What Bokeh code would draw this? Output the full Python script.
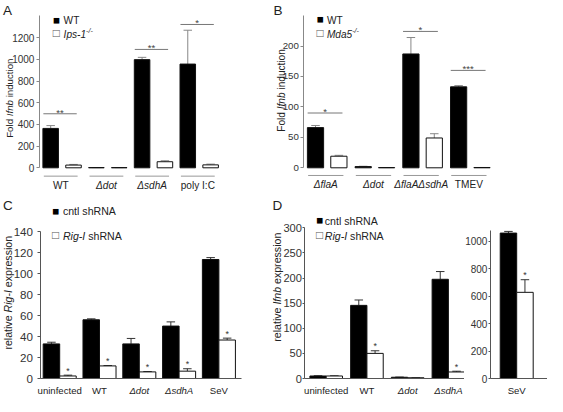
import numpy as np
from bokeh.plotting import figure
from bokeh.layouts import row, column
from bokeh.models import Range1d, FixedTicker, ColumnDataSource, Whisker, TeeHead, Label
from bokeh.embed import file_html
from bokeh.resources import INLINE
from bokeh.core.properties import value

FONT = "Liberation Sans"
TXT = "#222222"
BASE_SHIFT = 0.33  # Label boxes sit a little below the alphabetic baseline

# ---------------- data ----------------
A_CATS = ["WT", "Δdot", "ΔsdhA", "poly I:C"]
A_ITALIC = [False, True, True, False]
A_WT = [363, 2, 997, 956]
A_WT_ERR = [26, 0, 21, 312]
A_KO = [25, 2, 56, 27]
A_KO_ERR = [6, 0, 9, 7]
A_SIG_GROUPS = [0, 2, 3]
A_SIG_Y = [498, 1091, 1321]
A_SIG_TEXT = ["**", "**", "*"]
A_YTICKS = [0, 200, 400, 600, 800, 1000, 1200]

B_CATS = ["ΔflaA", "Δdot", "ΔflaAΔsdhA", "TMEV"]
B_ITALIC = [True, True, True, False]
B_WT = [66, 2, 187, 133]
B_WT_ERR = [3.5, 0.5, 27, 2]
B_KO = [19, 0.4, 49, 0.5]
B_KO_ERR = [1.5, 0, 7, 0]
B_SIG_GROUPS = [0, 2, 3]
B_SIG_Y = [90, 224, 160]
B_SIG_TEXT = ["*", "*", "***"]
B_YTICKS = [0, 50, 100, 150, 200]

C_CATS = ["uninfected", "WT", "Δdot", "ΔsdhA", "SeV"]
C_ITALIC = [False, False, True, True, False]
C_CTL = [33, 56, 33, 50, 113.5]
C_CTL_ERR = [1.6, 0.9, 5.2, 4, 1.8]
C_KD = [2.4, 12, 6.3, 7, 36.7]
C_KD_ERR = [0.8, 0.3, 0.3, 2.3, 1.8]
C_STARS = ["*", "*", "*", "*", "*"]
C_YTICKS = [0, 20, 40, 60, 80, 100, 120, 140]

D_CATS = ["uninfected", "WT", "Δdot", "ΔsdhA"]
D_ITALIC = [False, False, True, True]
D_CTL = [5, 145.6, 2.5, 197.5]
D_CTL_ERR = [0.5, 10.7, 0.3, 15.4]
D_KD = [5, 50, 1.5, 13]
D_KD_ERR = [0.3, 5.2, 0, 1.5]
D_STARS = ["", "*", "", "*"]
D_YTICKS = [0, 50, 100, 150, 200, 250, 300]

D2_CATS = ["SeV"]
D2_ITALIC = [False]
D2_CTL = [1060]
D2_CTL_ERR = [12]
D2_KD = [628]
D2_KD_ERR = [92]
D2_STARS = ["*"]
D2_YTICKS = [0, 200, 400, 600, 800, 1000]

# Arial / Liberation Sans advance widths (1/1000 em)
CW = {' ': 278, '-': 333, '/': 278, ':': 278, '1': 556, '5': 556, 'A': 667, 'B': 667,
      'C': 722, 'D': 722, 'E': 667, 'F': 611, 'I': 278, 'M': 833, 'N': 722, 'R': 722,
      'S': 667, 'T': 611, 'V': 667, 'W': 944, 'a': 556, 'b': 556, 'c': 500, 'd': 556,
      'e': 556, 'f': 278, 'g': 556, 'h': 556, 'i': 222, 'l': 222, 'n': 556, 'o': 556,
      'p': 556, 'r': 333, 's': 500, 't': 278, 'u': 556, 'v': 500, 'x': 500, 'y': 500}


def text_width(s, size):
    return sum(CW.get(ch, 556) for ch in s) * size / 1000.0


def make_panel(W, H, gx0, spacing, axis_px, y_zero_px, y_ref_px, y_ref_val, ticks,
               bounds, tick_size, tick_out, standoff, axis_color, base_end_px=None):
    """Frame fills the whole figure; group i sits at pixel gx0 + i*spacing."""
    sx = float(spacing)
    x_start = -gx0 / sx
    x_end = x_start + W / sx
    sy = (y_zero_px - y_ref_px) / float(y_ref_val)
    y_start = -(H - y_zero_px) / sy
    y_end = y_zero_px / sy
    axis_loc = x_start + axis_px / sx
    p = figure(width=W, height=H, x_range=Range1d(x_start, x_end),
               y_range=Range1d(y_start, y_end),
               output_backend="svg", toolbar_location=None,
               x_axis_location="below" if base_end_px is not None else None,
               min_border=0, min_border_left=0, min_border_right=0,
               min_border_top=0, min_border_bottom=0)
    p.outline_line_color = None
    p.grid.visible = False
    p.background_fill_color = "white"
    p.border_fill_color = "white"
    ax = p.yaxis[0]
    ax.fixed_location = axis_loc
    ax.ticker = FixedTicker(ticks=ticks)
    ax.bounds = bounds
    ax.minor_tick_line_color = None
    ax.major_tick_in = 0
    ax.major_tick_out = tick_out
    ax.major_label_standoff = standoff
    ax.major_label_text_font = FONT
    ax.major_label_text_font_size = f"{tick_size}px"
    ax.major_label_text_color = "#333333"
    ax.axis_line_color = axis_color
    ax.major_tick_line_color = axis_color
    if base_end_px is not None:
        xa = p.xaxis[0]
        xa.fixed_location = 0
        xa.bounds = (axis_loc, x_start + base_end_px / sx)
        xa.ticker = FixedTicker(ticks=[])
        xa.major_tick_line_color = None
        xa.minor_tick_line_color = None
        xa.major_label_text_font_size = "0px"
        xa.axis_line_color = axis_color
    return dict(p=p, H=H)


def put(g, fx, fy, text, size, italic=False, angle=0.0, color=TXT, align="left",
        font=FONT):
    c = BASE_SHIFT * size
    if angle:
        fx -= c
    else:
        fy -= c
    g["p"].add_layout(Label(x=fx, y=g["H"] - fy, x_units="screen", y_units="screen",
                            text=text, text_font=font, text_font_size=f"{size:.1f}px",
                            text_font_style="italic" if italic else "normal",
                            angle=angle, text_align=align,
                            text_baseline="alphabetic", text_color=color))


def rich(g, fx, fy, parts, size, angle=0.0):
    pos = 0.0
    for t, style in parts:
        sz = size * 0.7 if style == "sup" else size
        rise = size * 0.38 if style == "sup" else 0.0
        shown = t.strip()
        lead = text_width(t[:len(t) - len(t.lstrip())], sz)
        if angle:
            put(g, fx - rise, fy - pos - lead, shown, sz, style in ("i", "sup"), angle)
        else:
            put(g, fx + pos + lead, fy - rise, shown, sz, style in ("i", "sup"))
        pos += text_width(t, sz)


def legend(g, sq_x, sq_bottom, filled, tx, ty, parts, size):
    put(g, sq_x, sq_bottom, "■" if filled else "□", 11.6,
        color="black" if filled else "#555555")
    rich(g, tx, ty, parts, size)


def bars(g, n, v1, e1, v2, e2, off, width, ecol, stars=None, star_size=8.7):
    p = g["p"]
    idx = np.arange(n)
    out = []
    for vals, errs, sgn, fill in ((v1, e1, -1, "black"), (v2, e2, 1, "white")):
        v = np.array(vals, float)
        e = np.array(errs, float)
        src = ColumnDataSource(dict(x=idx + sgn * off, top=v, upper=v + e))
        p.vbar(x="x", top="top", bottom=0, width=width, source=src,
               fill_color=fill, line_color="#111111", line_width=1)
        p.add_layout(Whisker(source=src, base="x", lower="top", upper="upper",
                             line_color=ecol, line_width=1, lower_head=None,
                             upper_head=TeeHead(size=8.5, line_color=ecol, line_width=1)))
        out.append(src)
    if stars is not None:
        s = out[1].data
        keep = [i for i in range(n) if stars[i]]
        p.text(x=[s["x"][i] for i in keep], y=[s["upper"][i] for i in keep],
               text=[stars[i] for i in keep], text_align="center",
               text_baseline="alphabetic", text_font=value(FONT),
               text_font_size=f"{star_size}px", text_color="#333333", y_offset=-4.5)


def xlabels(g, cats, italics, fy, size, dx=0.0):
    fy -= BASE_SHIFT * size
    for i, (c, it) in enumerate(zip(cats, italics)):
        g["p"].add_layout(Label(x=i + dx, y=g["H"] - fy, x_units="data",
                                y_units="screen", text=c, text_font=FONT,
                                text_font_size=f"{size}px",
                                text_font_style="italic" if it else "normal",
                                text_align="center", text_baseline="alphabetic",
                                text_color=TXT))


def sig_and_under(g, n, sig_groups, sig_y, sig_text, under_y):
    p = g["p"]
    idx = np.arange(n)
    p.segment(x0=idx - 0.40, x1=idx + 0.34, y0=[under_y] * n, y1=[under_y] * n,
              line_color="#999999", line_width=1)
    sg = np.array(sig_groups)
    p.segment(x0=sg - 0.41, x1=sg + 0.32, y0=sig_y, y1=sig_y,
              line_color="#777777", line_width=1)
    p.text(x=sg - 0.045, y=sig_y, text=sig_text, text_align="center",
           text_baseline="alphabetic", text_font=value(FONT), text_font_size="9.7px",
           text_color="#444444", y_offset=-1.5)


# ---------------- panel A ----------------
A = make_panel(272, 192, 61.6, 45.7, 38.9, 167.3, 15.4, 1400, A_YTICKS,
               (0, 1400), 10, 3, 2, "#888888")
bars(A, 4, A_WT, A_WT_ERR, A_KO, A_KO_ERR, 0.25, 0.34, "#888888")
sig_and_under(A, 4, A_SIG_GROUPS, A_SIG_Y, A_SIG_TEXT, -77)
xlabels(A, A_CATS, A_ITALIC, 188.0, 10.1, -0.03)
put(A, 2.5, 14.4, "A", 13.5)
rich(A, 12.3, 137.3, [("Fold ", ""), ("Ifnb", "i"), (" induction", "")], 9.7,
     angle=np.pi / 2)
legend(A, 52.3, 22.4, True, 63.1, 23, [("WT", "")], 10.1)
legend(A, 52.3, 36.2, False, 63.1, 37, [("Ips-1", "i"), ("-/-", "sup")], 10.1)

# ---------------- panel B ----------------
Bp = make_panel(275, 192, 54.7, 47.7, 31.4, 167.3, 15.1, 250, B_YTICKS,
                (0, 250), 9.7, 3, 2, "#888888")
bars(Bp, 4, B_WT, B_WT_ERR, B_KO, B_KO_ERR, 0.245, 0.34, "#888888")
sig_and_under(Bp, 4, B_SIG_GROUPS, B_SIG_Y, B_SIG_TEXT, -12.6)
xlabels(Bp, B_CATS, B_ITALIC, 187.7, 10.1, -0.03)
put(Bp, 1, 14.4, "B", 13.5)
rich(Bp, 12.6, 131.2, [("Fold ", ""), ("Ifnb", "i"), (" induction", "")], 10.1,
     angle=np.pi / 2)
legend(Bp, 44, 21.8, True, 54.4, 23, [("WT", "")], 10.1)
legend(Bp, 44, 36.2, False, 54.4, 37, [("Mda5", "i"), ("-/-", "sup")], 10.1)

# ---------------- panel C ----------------
C = make_panel(272, 204, 59.2, 39.8, 39.5, 186.0, 39.2, 140, C_YTICKS,
               (0, 140), 11.6, 3, 4, "#555555", base_end_px=240.8)
bars(C, 5, C_CTL, C_CTL_ERR, C_KD, C_KD_ERR, 0.2075, 0.415, "#333333", C_STARS)
xlabels(C, C_CATS, C_ITALIC, 201.0, 9.6)
put(C, 2.5, 17, "C", 13.5)
rich(C, 10.7, 157.1, [("relative ", ""), ("Rig-I", "i"), (" expression", "")], 10.6,
     angle=np.pi / 2)
legend(C, 51.5, 21.8, True, 62.4, 22.4, [("cntl shRNA", "")], 10.6)
legend(C, 51.5, 45.5, False, 62.4, 46.5, [("Rig-I", "i"), (" shRNA", "")], 10.6)

# ---------------- panel D ----------------
D = make_panel(192, 204, 53.7, 40.73, 32.4, 186.0, 35.3, 300, D_YTICKS,
               (0, 300), 11.1, 2, 1, "#555555", base_end_px=192)
bars(D, 4, D_CTL, D_CTL_ERR, D_KD, D_KD_ERR, 0.2, 0.4, "#333333", D_STARS)
xlabels(D, D_CATS, D_ITALIC, 201.0, 9.6)
put(D, 0, 17, "D", 13.5)
rich(D, 8.3, 149.2, [("relative ", ""), ("Ifnb", "i"), (" expression", "")], 10.6,
     angle=np.pi / 2)
legend(D, 43.5, 30.5, True, 52.3, 31.8, [("cntl shRNA", "")], 10.6)
legend(D, 43.5, 45.5, False, 52.3, 46.7, [("Rig-I", "i"), (" shRNA", "")], 10.6)

# ---------------- panel D (SeV) ----------------
D2 = make_panel(83, 204, 52.2, 40.73, 25.9, 186.0, 48.8, 1000, D2_YTICKS,
                (0, 1080), 10, 2, 1, "#555555", base_end_px=83)
bars(D2, 1, D2_CTL, D2_CTL_ERR, D2_KD, D2_KD_ERR, 0.2025, 0.405, "#333333", D2_STARS)
xlabels(D2, D2_CATS, D2_ITALIC, 201.0, 9.6)

layout = column(row(A["p"], Bp["p"]), row(C["p"], D["p"], D2["p"]))
open("out.html", "w").write(file_html(layout, INLINE))
